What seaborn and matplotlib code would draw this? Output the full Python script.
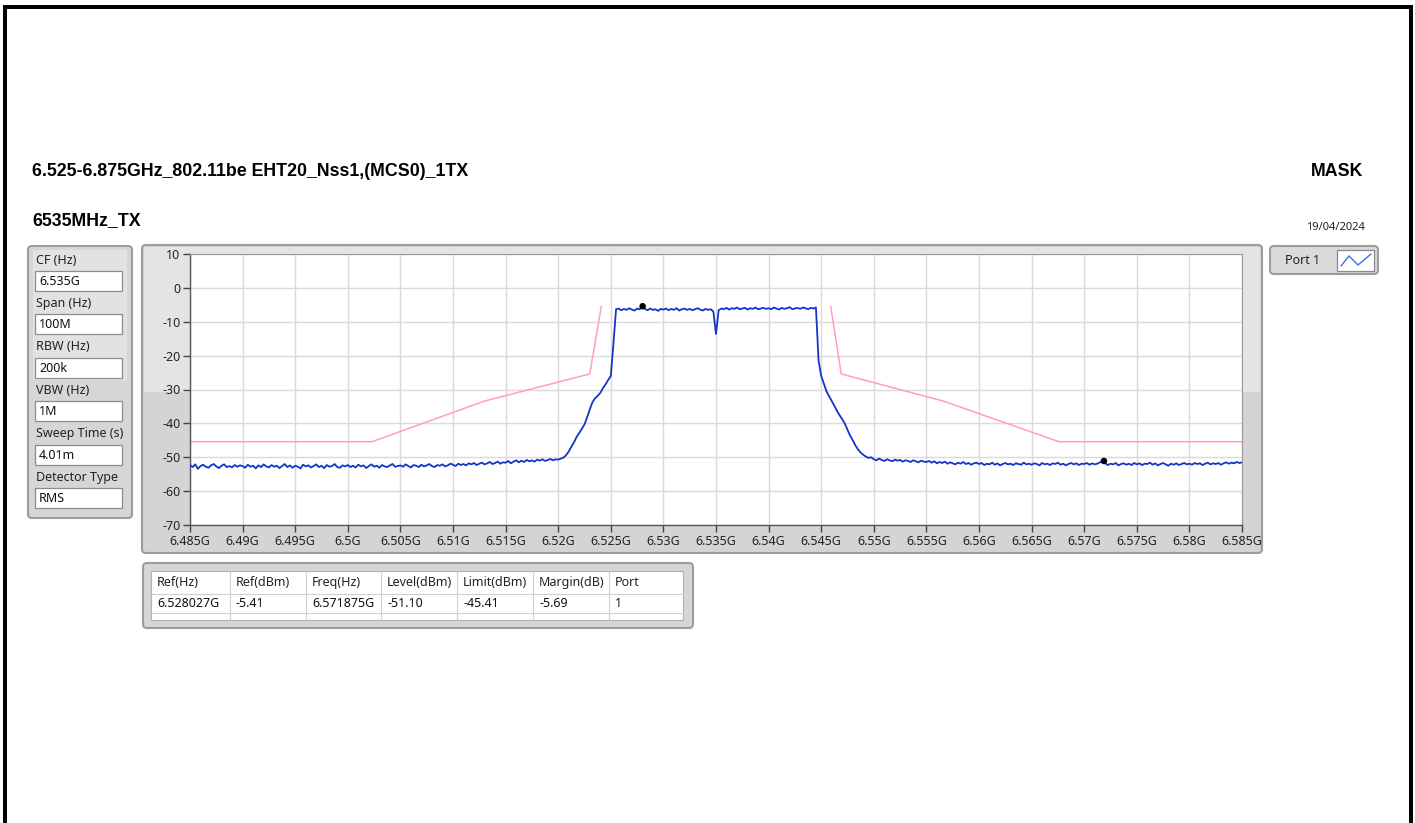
import numpy as np
import pandas as pd
import matplotlib
matplotlib.use("Agg")
import matplotlib.pyplot as plt
from matplotlib.patches import FancyBboxPatch, Rectangle
from matplotlib.lines import Line2D
import seaborn as sns

# ---- data ----
title_text = "6.525-6.875GHz_802.11be EHT20_Nss1,(MCS0)_1TX"
subtitle_text = "6535MHz_TX"
mode_text = "MASK"
date_text = "19/04/2024"

start_mhz = 6485.0
step_mhz = 0.25  # sweep point spacing

# trace level (dBm), one row per 5 MHz
trace_dbm = [
    # 6485
    -52.3, -52.9, -52.1, -53.4, -52.6, -52.2, -52.8, -53.1, -52.4, -52.0, -52.7, -53.2, -52.5, -52.1, -52.9, -52.6, -53.0, -52.3, -52.8, -52.4,
    # 6490
    -52.6, -53.1, -52.2, -52.8, -52.5, -53.3, -52.4, -52.9, -52.1, -52.7, -53.0, -52.3, -52.8, -52.5, -53.2, -52.6, -52.0, -52.9, -52.4, -53.1,
    # 6495
    -52.5, -52.8, -53.3, -52.2, -52.7, -52.4, -53.0, -52.6, -52.1, -52.9, -52.5, -53.2, -52.3, -52.8, -52.6, -52.0, -52.9, -53.1, -52.4, -52.7,
    # 6500
    -52.3, -52.9, -52.5, -53.0, -52.2, -52.7, -52.4, -53.2, -52.6, -52.1, -52.8, -52.5, -53.1, -52.3, -52.7, -52.9, -52.4, -52.0, -52.8, -52.6,
    # 6505
    -52.4, -52.8, -52.1, -52.6, -53.0, -52.3, -52.5, -52.9, -52.2, -52.7, -52.4, -52.0, -52.6, -52.9, -52.3, -52.5, -52.1, -52.7, -52.4, -51.9,
    # 6510
    -52.2, -52.6, -51.9, -52.3, -52.0, -52.4, -51.8, -52.1, -51.7, -52.3, -51.9, -51.6, -52.1, -51.8, -51.4, -52.0, -51.7, -51.3, -51.9, -51.5,
    # 6515
    -51.6, -51.1, -51.8, -51.3, -50.9, -51.5, -51.0, -51.4, -50.8, -51.2, -50.9, -51.3, -50.7, -51.0, -50.6, -51.1, -50.8, -50.5, -50.9, -50.6,
    # 6520
    -50.7, -50.4, -50.1, -49.4, -48.3, -46.9, -45.6, -44.0, -42.8, -41.6, -40.3, -38.2, -35.9, -33.8, -32.6, -31.9, -31.0, -29.6, -28.5, -27.2,
    # 6525
    -26.0, -16.5, -6.3, -6.1, -6.6, -6.2, -6.5, -6.0, -6.4, -6.7, -6.1, -6.3, -5.41, -6.2, -6.6, -6.1, -6.5, -6.3, -6.8, -6.2,
    # 6530
    -6.4, -6.1, -6.6, -6.2, -6.5, -6.0, -6.7, -6.3, -6.1, -6.5, -6.2, -6.6, -6.3, -6.0, -6.4, -6.7, -6.2, -6.5, -6.3, -7.0,
    # 6535
    -13.6, -6.6, -6.1, -6.3, -5.9, -6.4, -6.0, -6.2, -5.8, -6.3, -6.1, -5.9, -6.4, -6.0, -6.2, -5.8, -6.3, -6.1, -5.9, -6.2,
    # 6540
    -6.0, -6.3, -5.8, -6.1, -6.4, -5.9, -6.2, -6.0, -5.7, -6.3, -6.1, -5.9, -6.2, -5.8, -6.0, -6.3, -5.9, -6.1, -5.8, -21.5,
    # 6545
    -26.0, -28.3, -30.5, -32.0, -33.4, -34.8, -36.3, -37.6, -38.8, -40.1, -41.9, -43.6, -45.0, -46.5, -47.7, -48.6, -49.3, -49.8, -50.2, -50.0,
    # 6550
    -50.6, -50.9, -50.4, -50.8, -51.1, -50.6, -50.9, -51.2, -50.7, -51.0, -50.8, -51.3, -50.9, -51.1, -51.4, -50.9, -51.2, -51.5, -51.0, -51.3,
    # 6555
    -51.4, -51.1, -51.6, -51.2, -51.8, -51.4, -51.7, -51.3, -51.9, -51.5, -51.8, -52.1, -51.6, -51.9, -51.4, -52.0, -51.7, -52.2, -51.8, -51.6,
    # 6560
    -52.0, -51.7, -52.3, -51.9, -52.1, -51.6, -52.2, -51.8, -52.4, -52.0, -51.7, -52.1, -51.9, -52.3, -51.8, -52.0, -52.2, -51.6, -52.1, -51.9,
    # 6565
    -52.2, -51.8, -52.0, -52.4, -51.7, -52.1, -51.9, -52.3, -51.8, -52.0, -51.6, -52.2, -51.9, -52.4, -52.0, -51.7, -52.1, -51.8, -52.3, -51.9,
    # 6570
    -52.0, -51.7, -52.2, -51.8, -52.1, -51.9, -51.5, -51.1, -51.8, -52.3, -51.9, -52.1, -51.7, -52.4, -52.0, -51.8, -52.2, -51.9, -52.3, -51.7,
    # 6575
    -52.1, -51.8, -52.3, -51.9, -52.0, -51.6, -52.2, -51.8, -52.4, -52.0, -51.7, -52.1, -52.5, -51.9, -52.2, -51.8, -52.3, -52.0, -51.7, -52.1,
    # 6580
    -51.9, -52.2, -51.7, -52.0, -51.8, -52.3, -51.9, -51.6, -52.1, -51.8, -52.0, -51.7, -52.2, -51.8, -51.5, -51.9, -51.6, -51.8, -51.4, -51.7,
    # 6585
    -51.5,
]

# spectrum mask (limit line), left and right parts
mask_left_ghz = [6.485, 6.5023, 6.5130, 6.5230, 6.5241]
mask_left_dbm = [-45.41, -45.41, -33.41, -25.41, -5.41]
mask_right_ghz = [6.5459, 6.5469, 6.5566, 6.5676, 6.585]
mask_right_dbm = [-5.41, -25.41, -33.41, -45.41, -45.41]

# markers: reference peak and worst margin point
marker_ghz = [6.528027, 6.571875]
marker_dbm = [-5.41, -51.10]

x_ticks_ghz = [6.485, 6.49, 6.495, 6.5, 6.505, 6.51, 6.515, 6.52, 6.525, 6.53,
               6.535, 6.54, 6.545, 6.55, 6.555, 6.56, 6.565, 6.57, 6.575, 6.58, 6.585]
y_ticks = [10, 0, -10, -20, -30, -40, -50, -60, -70]

setting_names = ["CF (Hz)", "Span (Hz)", "RBW (Hz)", "VBW (Hz)", "Sweep Time (s)", "Detector Type"]
setting_values = ["6.535G", "100M", "200k", "1M", "4.01m", "RMS"]

table_headers = ["Ref(Hz)", "Ref(dBm)", "Freq(Hz)", "Level(dBm)", "Limit(dBm)", "Margin(dB)", "Port"]
table_values = ["6.528027G", "-5.41", "6.571875G", "-51.10", "-45.41", "-5.69", "1"]

legend_label = "Port 1"

# ---- build frame ----
freq_ghz = (start_mhz + np.arange(len(trace_dbm)) * step_mhz) / 1000.0
trace = pd.DataFrame({"freq": freq_ghz, "level": trace_dbm})

sns.set_style("white")
plt.rcParams["font.family"] = ["Noto Sans", "DejaVu Sans"]
BOLD = ["Liberation Sans", "DejaVu Sans"]
FS = 9.0
TS = 12.8

W, H = 1415, 823
fig = plt.figure(figsize=(W / 100, H / 100), dpi=100)

# background canvas in pixel units
bg = fig.add_axes([0, 0, 1, 1], zorder=0)
bg.set_xlim(0, W)
bg.set_ylim(H, 0)
bg.axis("off")


def box(x0, y0, x1, y1, fc, ec, lw=1.0, r=4):
    p = FancyBboxPatch((x0, y0), x1 - x0, y1 - y0,
                       boxstyle=f"round,pad=0,rounding_size={r}",
                       fc=fc, ec=ec, lw=lw)
    bg.add_patch(p)


def rect(x0, y0, x1, y1, fc, ec="none", lw=0.8):
    bg.add_patch(Rectangle((x0, y0), x1 - x0, y1 - y0, fc=fc, ec=ec, lw=lw))


# page border (left, top, right)
rect(3, 5, 1413, 9, "black")
rect(3, 5, 7, H, "black")
rect(1409, 5, 1413, H, "black")

# titles
bg.text(32, 171, title_text, fontsize=TS, fontweight="bold", family=BOLD,
        va="center", ha="left", color="black")
bg.text(1363, 171, mode_text, fontsize=TS, fontweight="bold", family=BOLD,
        va="center", ha="right", color="black")
bg.text(32, 221, subtitle_text, fontsize=TS, fontweight="bold", family=BOLD,
        va="center", ha="left", color="black")
bg.text(1365, 227, date_text, fontsize=8, va="center", ha="right", color="#222222")

# settings panel
box(28, 246, 132, 518, "#d6d6d6", "#9c9c9c", lw=1.5)
rect(33, 250, 127, 380, "#e2e2e2")
for i, (name, val) in enumerate(zip(setting_names, setting_values)):
    ytop = 252 + i * 43.4
    bg.text(36, ytop + 8, name, fontsize=FS, va="center", ha="left", color="#222222")
    rect(35, ytop + 19, 122, ytop + 39, "white", ec="#8c8c8c", lw=0.9)
    bg.text(39, ytop + 29.5, val, fontsize=FS, va="center", ha="left", color="#111111")

# graph frame
box(142, 245, 1262, 553, "#d4d4d4", "#9c9c9c", lw=1.5)
rect(144, 247, 1260, 392, "#e4e4e4")

# legend
box(1270, 246, 1378, 274, "#dadada", "#9c9c9c", lw=1.5)
bg.text(1285, 260, legend_label, fontsize=FS, va="center", ha="left", color="#222222")
rect(1337, 250, 1374, 271, "white", ec="#8a8a8a", lw=0.9)
bg.add_line(Line2D([1341, 1349, 1358, 1371], [266, 256, 265, 254], color="#3f6fe0", lw=1.0))

# markers table
box(143, 563, 693, 628, "#d6d6d6", "#9c9c9c", lw=1.5)
rect(151, 571, 683, 620, "white", ec="#b0b0b0", lw=0.8)
col_x = [151, 230, 306, 381, 457, 533, 609, 683]
for cx in col_x[1:-1]:
    bg.plot([cx, cx], [571, 620], color="#d0d0d0", lw=0.8)
for ry in [594, 613]:
    bg.plot([151, 683], [ry, ry], color="#d0d0d0", lw=0.8)
for cx, head, val in zip(col_x, table_headers, table_values):
    bg.text(cx + 6, 582.5, head, fontsize=FS, va="center", ha="left", color="#222222")
    bg.text(cx + 6, 603.5, val, fontsize=FS, va="center", ha="left", color="#111111")

# ---- spectrum plot ----
ax = fig.add_axes([190 / W, 1 - 525 / H, 1052 / W, 271 / H], zorder=2)
ax.set_facecolor("white")

sns.lineplot(data=trace, x="freq", y="level", ax=ax, color="#1336c8", lw=1.3,
             sort=False, legend=False, zorder=3)
sns.lineplot(x=mask_left_ghz, y=mask_left_dbm, ax=ax, color="#ff9ccb", lw=1.1,
             sort=False, legend=False, zorder=2)
sns.lineplot(x=mask_right_ghz, y=mask_right_dbm, ax=ax, color="#ff9ccb", lw=1.1,
             sort=False, legend=False, zorder=2)
sns.scatterplot(x=marker_ghz, y=marker_dbm, ax=ax, color="black", s=22,
                edgecolor="none", zorder=4, legend=False)

ax.set_xlim(x_ticks_ghz[0], x_ticks_ghz[-1])
ax.set_ylim(-70, 10)
ax.set_xticks(x_ticks_ghz)
ax.set_xticklabels([f"{v:g}G" for v in x_ticks_ghz])
ax.set_yticks(y_ticks)
ax.set_yticklabels([str(v) for v in y_ticks])
ax.set_xlabel("")
ax.set_ylabel("")
ax.grid(True, color="#dadada", lw=1.0)
ax.tick_params(axis="both", direction="out", length=5, width=1, color="#444444",
               labelsize=FS, labelcolor="#222222", pad=2,
               bottom=True, left=True)
for side in ["top", "right"]:
    ax.spines[side].set_color("#9a9a9a")
    ax.spines[side].set_linewidth(0.8)
for side in ["left", "bottom"]:
    ax.spines[side].set_color("#555555")
    ax.spines[side].set_linewidth(1.0)

fig.savefig("out.png", dpi=100)
